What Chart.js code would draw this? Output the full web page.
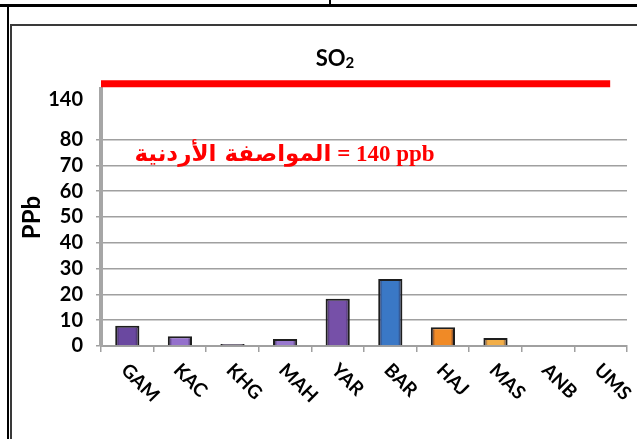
<!DOCTYPE html>
<html>
<head>
<meta charset="utf-8">
<script src="https://cdn.jsdelivr.net/npm/chart.js@4"></script>
<style>
    body { margin: 0; background: #fff; }
    #contenedor { position: relative; width: 637px; height: 439px; overflow: hidden; }
    #grafico { position: absolute; left: 0; top: 0; }
    .marco { position: absolute; background: #000; }
    #cajaInterior { position: absolute; left: 10px; top: 24px; width: 700px; height: 500px;
        border-top: 2px solid #3a3a3a; border-left: 2px solid #3a3a3a; }
    #titulo { position: absolute; left: 0; width: 670px; top: 44px; text-align: center;
        font: bold 22px Lato, 'Open Sans', sans-serif; color: #000; }
    #titulo sub { font-size: 15px; vertical-align: -2px; }
</style>
</head>
<body>
<div id="contenedor">
    <div class="marco" style="left:0;top:4px;width:637px;height:3px"></div>
    <div class="marco" style="left:329px;top:0;width:2px;height:6px"></div>
    <div class="marco" style="left:7px;top:7px;width:2px;height:432px"></div>
    <div id="cajaInterior"></div>
    <canvas id="grafico" width="637" height="439"></canvas>
    <div id="titulo">SO<sub>2</sub></div>
</div>
<script>
const estaciones = ['GAM', 'KAC', 'KHG', 'MAH', 'YAR', 'BAR', 'HAJ', 'MAS', 'ANB', 'UMS'];
const valoresSO2 = [7.8, 3.8, 0.8, 2.7, 18.3, 26, 7.3, 3.1, 0, 0];
const coloresBarras = ['#6A48A0', '#9470CC', '#6E5F80', '#9878CE', '#7650A8', '#3A78C6', '#F08A26', '#F2AE48', '#999999', '#999999'];
const marcasEje = [0, 10, 20, 30, 40, 50, 60, 70, 80, 140];
const normaJordana = 140;
const textoNormaAr = 'المواصفة الأردنية';
const textoNormaValor = ' = 140 ppb';

// eje roto: por encima de 80 la escala se comprime
const cortePPb = 80;
function posEje(v) {
    return v <= cortePPb ? v : cortePPb + (v - cortePPb) * 0.36;
}

const anchoBarra = 0.46;

// degradado horizontal para dar algo de volumen a las barras
function rellenoBarra(c) {
    const chart = c.chart;
    const base = coloresBarras[c.dataIndex];
    if (!chart.chartArea) return base;
    const ejeX = chart.scales.x;
    const centro = ejeX.getPixelForValue(c.dataIndex);
    const medio = ejeX.width / estaciones.length * anchoBarra / 2;
    const g = chart.ctx.createLinearGradient(centro - medio, 0, centro + medio, 0);
    g.addColorStop(0, '#2a1f3a');
    g.addColorStop(0.18, base);
    g.addColorStop(0.82, base);
    g.addColorStop(1, '#2a1f3a');
    return g;
}

const etiquetasX = {
    id: 'etiquetasX',
    afterDraw(chart) {
        const ctx = chart.ctx;
        const ejeX = chart.scales.x;
        ctx.save();
        ctx.font = 'bold 19px Lato, "Open Sans", sans-serif';
        ctx.fillStyle = '#000';
        ctx.textAlign = 'left';
        ctx.textBaseline = 'middle';
        estaciones.forEach((nombre, i) => {
            ctx.save();
            ctx.translate(ejeX.getPixelForValue(i) - 3, ejeX.top + 21);
            ctx.rotate(Math.PI / 4);
            ctx.fillText(nombre, 0, 0);
            ctx.restore();
        });
        ctx.restore();
    }
};

const anotacion = {
    id: 'anotacion',
    afterDatasetsDraw(chart) {
        const ctx = chart.ctx;
        const x = chart.scales.x.getPixelForValue(3.88);
        const y = chart.scales.y.getPixelForValue(74);
        ctx.save();
        ctx.fillStyle = '#FF0000';
        ctx.textBaseline = 'middle';
        ctx.font = 'bold 23px "DejaVu Sans", sans-serif';
        ctx.textAlign = 'right';
        ctx.fillText(textoNormaAr, x, y);
        ctx.font = 'bold 23px "Liberation Serif", serif';
        ctx.textAlign = 'left';
        ctx.fillText(textoNormaValor, x, y);
        ctx.restore();
    }
};

const ctx = document.getElementById('grafico').getContext('2d');
const grafico = new Chart(ctx, {
    type: 'bar',
    data: {
        labels: estaciones,
        datasets: [{
            label: 'SO2',
            data: valoresSO2,
            backgroundColor: rellenoBarra,
            borderColor: '#1e1e1e',
            borderWidth: 2,
            grouped: false,
            barPercentage: anchoBarra,
            categoryPercentage: 1
        }, {
            type: 'line',
            label: 'Norma',
            xAxisID: 'xl',
            data: [{ x: -0.5, y: posEje(normaJordana) }, { x: 9.18, y: posEje(normaJordana) }],
            borderColor: '#FF0000',
            borderWidth: 7,
            pointRadius: 0,
            clip: false
        }]
    },
    options: {
        responsive: false,
        animation: false,
        layout: { padding: { left: 0, right: 10, top: 89, bottom: 87 } },
        plugins: {
            legend: { display: false },
            tooltip: { enabled: false },
            title: { display: false }
        },
        scales: {
            x: {
                offset: true,
                grid: { offset: true, drawOnChartArea: false, color: '#A0A0A0', lineWidth: 1.5, tickLength: 6 },
                border: { color: '#A0A0A0', width: 2 },
                ticks: { display: false }
            },
            xl: {
                type: 'linear',
                display: false,
                offset: false,
                min: -0.5,
                max: 9.5
            },
            y: {
                min: 0,
                max: 99.6,
                afterBuildTicks: eje => {
                    eje.ticks = marcasEje.map(v => ({ value: v > cortePPb ? posEje(v) - 6 : v }));
                },
                afterFit: eje => { eje.width = 101; },
                grid: {
                    color: c => (c.tick && c.tick.value > cortePPb) ? 'rgba(0,0,0,0)' : '#A0A0A0',
                    lineWidth: 1.5,
                    tickLength: 5
                },
                border: { color: '#A6A6A6', width: 4 },
                ticks: {
                    padding: 13,
                    color: '#000',
                    font: { family: 'Lato, "Open Sans", sans-serif', size: 20, weight: 'bold' },
                    callback: (valor, i) => String(marcasEje[i])
                },
                title: {
                    display: true,
                    text: 'PPb',
                    color: '#000',
                    font: { family: 'Lato, "Open Sans", sans-serif', size: 24, weight: 'bold' },
                    padding: { top: 18, bottom: 0 }
                }
            }
        }
    },
    plugins: [etiquetasX, anotacion]
});
</script>
</body>
</html>
